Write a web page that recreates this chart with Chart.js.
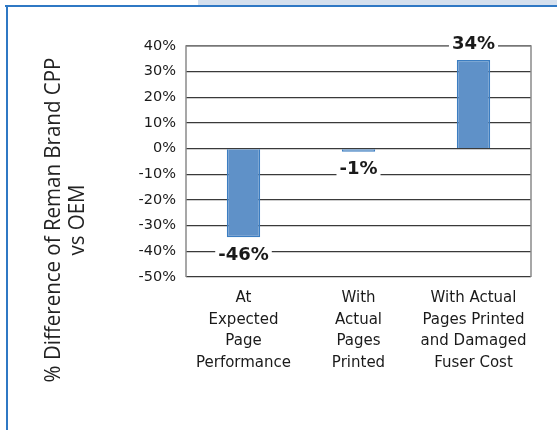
<!DOCTYPE html>
<html>
<head>
<meta charset="utf-8">
<script src="https://cdn.jsdelivr.net/npm/chart.js@4.4.0/dist/chart.umd.min.js"></script>
<style>
  html, body { margin: 0; padding: 0; background: #fff; }
  #wrap { position: relative; width: 557px; height: 430px; overflow: hidden; }
  #band { position: absolute; left: 198px; top: 0; width: 359px; height: 5px; background: #d5e0ee; }
  #topline { position: absolute; left: 5px; top: 5px; width: 552px; height: 2px; background: #2f78c4; }
  #leftline { position: absolute; left: 6px; top: 5px; width: 2px; height: 425px; background: #2f78c4; }
  canvas { position: absolute; left: 0; top: 0; }
</style>
</head>
<body>
<div id="wrap">
  <div id="band"></div>
  <div id="topline"></div>
  <div id="leftline"></div>
  <canvas id="chart" width="557" height="430"></canvas>
</div>
<script>
// chart data
const categories = [
  ["At", "Expected", "Page", "Performance"],
  ["With", "Actual", "Pages", "Printed"],
  ["With Actual", "Pages Printed", "and Damaged", "Fuser Cost"],
];
const values = [-34.5, -1.2, 34.5];
const labelText = ["-46%", "-1%", "34%"];
const yTitle = ["% Difference of Reman Brand CPP", "vs OEM"];
const yMin = -50;
const yMax = 40;
const yStep = 10;

// frame around plot area
const framePlugin = {
  id: "frame",
  afterDatasetsDraw(chart) {
    const { ctx, chartArea: a } = chart;
    ctx.save();
    ctx.strokeStyle = "#8a8a8a";
    ctx.lineWidth = 1.5;
    ctx.beginPath();
    ctx.moveTo(a.left, a.bottom);
    ctx.lineTo(a.left, a.top);
    ctx.lineTo(a.right, a.top);
    ctx.lineTo(a.right, a.bottom);
    ctx.stroke();
    ctx.restore();
  },
};

// value labels with white box, beyond the bar end
const labelPlugin = {
  id: "barLabels",
  afterDraw(chart) {
    const { ctx } = chart;
    const meta = chart.getDatasetMeta(0);
    ctx.save();
    ctx.font = "bold 18px 'DejaVu Sans'";
    ctx.textAlign = "center";
    ctx.textBaseline = "middle";
    meta.data.forEach((bar, i) => {
      const v = values[i];
      const y = v < 0 ? bar.y + 17 : bar.y - 17;
      const w = ctx.measureText(labelText[i]).width;
      ctx.fillStyle = "#fff";
      ctx.fillRect(bar.x - w / 2 - 3, y - 10, w + 6, 20);
      ctx.fillStyle = "#1a1a1a";
      ctx.fillText(labelText[i], bar.x, y + 1);
    });
    ctx.restore();
  },
};

// rotated two-line axis title
const titlePlugin = {
  id: "yTitle",
  afterDraw(chart) {
    const { ctx } = chart;
    ctx.save();
    ctx.font = "20.5px 'Open Sans'";
    ctx.fillStyle = "#222";
    ctx.textAlign = "center";
    ctx.textBaseline = "middle";
    yTitle.forEach((t, i) => {
      ctx.save();
      ctx.translate(54 + i * 24, 220);
      ctx.rotate(-Math.PI / 2);
      ctx.scale(1, 1.05);
      ctx.fillText(t, 0, 0);
      ctx.restore();
    });
    ctx.restore();
  },
};

new Chart(document.getElementById("chart"), {
  type: "bar",
  data: {
    labels: categories,
    datasets: [
      {
        data: values,
        backgroundColor: "#5f91c8",
        borderColor: "#3b7dc1",
        borderWidth: 1.5,
        barPercentage: 0.29,
        categoryPercentage: 1,
      },
    ],
  },
  options: {
    responsive: false,
    animation: false,
    devicePixelRatio: 1,
    layout: {
      padding: { left: 0, top: 46, right: 26, bottom: 0 },
    },
    plugins: {
      legend: { display: false },
      tooltip: { enabled: false },
    },
    scales: {
      x: {
        grid: { display: false, drawTicks: false },
        border: { display: false },
        ticks: {
          color: "#1a1a1a",
          font: { family: "DejaVu Sans", size: 15, lineHeight: 1.45 },
          padding: 10,
          maxRotation: 0,
          autoSkip: false,
        },
        afterFit(scale) {
          scale.height = 153;
        },
      },
      y: {
        min: yMin,
        max: yMax,
        grid: { color: "#3a3a3a", lineWidth: 1.2, drawTicks: false },
        border: { display: false },
        ticks: {
          stepSize: yStep,
          color: "#1a1a1a",
          font: { family: "DejaVu Sans", size: 14.5 },
          padding: 10,
          callback: (v) => v + "%",
        },
        afterFit(scale) {
          scale.width = 186;
        },
      },
    },
  },
  plugins: [framePlugin, labelPlugin, titlePlugin],
});
</script>
</body>
</html>
